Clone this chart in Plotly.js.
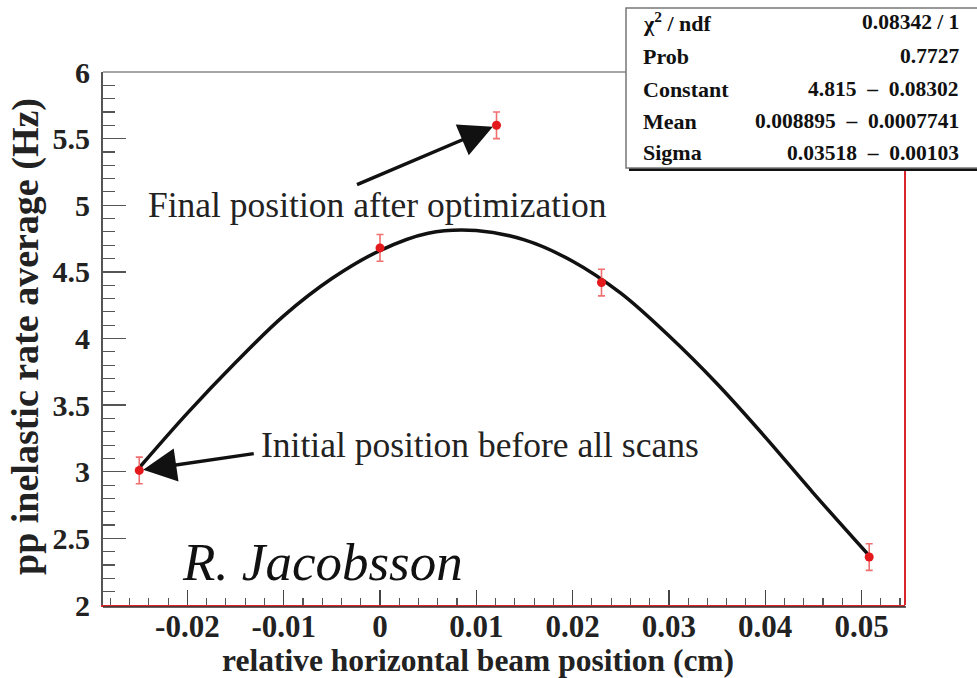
<!DOCTYPE html>
<html><head><meta charset="utf-8">
<script src="https://cdn.plot.ly/plotly-3.0.1.min.js"></script>
<style>html,body{margin:0;padding:0;background:#fff}#chart{width:977px;height:678px}</style>
</head><body><div id="chart"></div>
<script>
// ---- data ----
const beamPosition = [-0.0250, 0.0000, 0.0121, 0.0230, 0.0508];
const rateAverage  = [3.01, 4.68, 5.60, 4.42, 2.36];
const rateError    = [0.10, 0.10, 0.10, 0.10, 0.10];

const fitPosition = [-0.025, -0.02, -0.015, -0.01, -0.005, 0, 0.005, 0.01, 0.015, 0.02, 0.025, 0.03, 0.035, 0.04, 0.045, 0.0508];
const fitRate     = [3.03, 3.44, 3.82, 4.17, 4.45, 4.66, 4.79, 4.81, 4.74, 4.58, 4.34, 4.02, 3.66, 3.26, 2.84, 2.37];

const xTickValues = [-0.02, -0.01, 0, 0.01, 0.02, 0.03, 0.04, 0.05];
const xTickLabels = ['-0.02', '-0.01', '0', '0.01', '0.02', '0.03', '0.04', '0.05'];
const yTickValues = [2, 2.5, 3, 3.5, 4, 4.5, 5, 5.5, 6];
const yTickLabels = ['2', '2.5', '3', '3.5', '4', '4.5', '5', '5.5', '6'];

const statsLabels = ['\u03c7<sup>2</sup> / ndf', 'Prob', 'Constant', 'Mean', 'Sigma'];
const statsValues = ['0.08342 / 1', '0.7727', '4.815  \u2013  0.08302', '0.008895  \u2013  0.0007741', '0.03518  \u2013  0.00103'];

const xTitle = 'relative horizontal beam position (cm)';
const yTitle = 'pp inelastic rate average (Hz)';
const finalNote = 'Final position after optimization';
const initialNote = 'Initial position before all scans';
const author = 'R. Jacobsson';

// ---- geometry ----
const W = 977, H = 678, L = 103, R = 905, T = 72, B = 605;
const px = v => (v - L) / (R - L);
const py = v => (B - v) / (B - T);
const serif = 'Liberation Serif';
const red = '#d8262b';

const traces = [
  {
    x: fitPosition, y: fitRate, type: 'scatter', mode: 'lines',
    line: {color: '#111', width: 3.5, shape: 'spline', smoothing: 1},
    hoverinfo: 'skip', showlegend: false
  },
  {
    x: beamPosition, y: rateAverage, type: 'scatter', mode: 'markers',
    marker: {color: '#e3191c', size: 9},
    error_y: {type: 'data', array: rateError, visible: true, color: '#f07070', thickness: 1.6, width: 3.5},
    showlegend: false
  }
];

const annotations = [];
// stats box text
const rowsY = [22, 56, 89, 121, 153];
statsLabels.forEach((t, i) => {
  annotations.push({xref: 'paper', yref: 'paper', x: px(641), y: py(rowsY[i]), xanchor: 'left', yanchor: 'middle',
    text: '<b>' + t + '</b>', showarrow: false, font: {family: serif, size: 22, color: '#111'}});
  annotations.push({xref: 'paper', yref: 'paper', x: px(961), y: py(rowsY[i]), xanchor: 'right', yanchor: 'middle',
    text: '<b>' + statsValues[i] + '</b>', showarrow: false, font: {family: serif, size: 21.5, color: '#111'}});
});
// notes
annotations.push({xref: 'paper', yref: 'paper', x: px(377), y: py(205), xanchor: 'center', yanchor: 'middle',
  text: finalNote, showarrow: false, font: {family: serif, size: 35.5, color: '#222'}});
annotations.push({xref: 'paper', yref: 'paper', x: px(480), y: py(445), xanchor: 'center', yanchor: 'middle',
  text: initialNote, showarrow: false, font: {family: serif, size: 35.5, color: '#222'}});
annotations.push({xref: 'paper', yref: 'paper', x: px(322), y: py(562), xanchor: 'center', yanchor: 'middle',
  text: '<i>' + author + '</i>', showarrow: false, font: {family: serif, size: 53, color: '#111'}});
// arrows pointing to data points
annotations.push({x: beamPosition[2], y: rateAverage[2], xref: 'x', yref: 'y', text: '', showarrow: true,
  ax: -141, ay: 60, arrowhead: 2, arrowsize: 1.9, arrowwidth: 3.5, arrowcolor: '#111', standoff: 4});
annotations.push({x: beamPosition[0], y: rateAverage[0], xref: 'x', yref: 'y', text: '', showarrow: true,
  ax: 116, ay: -17, arrowhead: 2, arrowsize: 1.9, arrowwidth: 3.5, arrowcolor: '#111', standoff: 4});
// axis titles
annotations.push({xref: 'paper', yref: 'paper', x: px(478), y: py(660), xanchor: 'center', yanchor: 'middle',
  text: '<b>' + xTitle + '</b>', showarrow: false, font: {family: serif, size: 31.5, color: '#222'}});
annotations.push({xref: 'paper', yref: 'paper', x: px(25), y: py(337), xanchor: 'center', yanchor: 'middle',
  textangle: -90, text: '<b>' + yTitle + '</b>', showarrow: false, font: {family: serif, size: 38, color: '#222'}});

const shapes = [
  {type: 'line', xref: 'paper', yref: 'paper', x0: 0, x1: 1, y0: 1, y1: 1, line: {color: '#888', width: 1.5}, layer: 'above'},
  {type: 'line', xref: 'paper', yref: 'paper', x0: 1, x1: 1, y0: 0, y1: 1, line: {color: red, width: 2}, layer: 'above'},
  {type: 'line', xref: 'paper', yref: 'paper', x0: px(L), x1: px(R + 1), y0: py(607), y1: py(607), line: {color: '#333', width: 1.5}, layer: 'above'},
  {type: 'rect', xref: 'paper', yref: 'paper', x0: px(629), x1: px(995), y0: py(171), y1: py(11), fillcolor: '#111', line: {width: 0}, layer: 'above'},
  {type: 'rect', xref: 'paper', yref: 'paper', x0: px(626), x1: px(990), y0: py(168), y1: py(8), fillcolor: '#fff', line: {color: '#777', width: 1.5}, layer: 'above'}
];

const layout = {
  width: W, height: H,
  margin: {l: L, r: W - R, t: T, b: H - B, pad: 0},
  paper_bgcolor: '#fff', plot_bgcolor: '#fff',
  showlegend: false,
  xaxis: {
    range: [(L - 380) / 9630, (R - 380) / 9630],
    tickmode: 'array', tickvals: xTickValues, ticktext: xTickLabels,
    ticks: 'inside', ticklen: 15, tickwidth: 1.3, tickcolor: '#444',
    minor: {dtick: 0.002, tick0: 0, ticks: 'inside', ticklen: 7, tickwidth: 1.1, tickcolor: '#555'},
    showline: true, linecolor: red, linewidth: 2,
    showgrid: false, zeroline: false,
    tickfont: {family: serif, size: 31, color: '#222', weight: 'bold'},
    ticklabelstandoff: -7
  },
  yaxis: {
    range: [2, 6],
    tickmode: 'array', tickvals: yTickValues, ticktext: yTickLabels,
    ticks: 'inside', ticklen: 23, tickwidth: 1.3, tickcolor: '#555',
    minor: {dtick: 0.1, tick0: 2, ticks: 'inside', ticklen: 12, tickwidth: 1.1, tickcolor: '#555'},
    showline: true, linecolor: '#555', linewidth: 2,
    showgrid: false, zeroline: false,
    tickfont: {family: serif, size: 30, color: '#222', weight: 'bold'},
    ticklabelstandoff: 5
  },
  shapes: shapes,
  annotations: annotations
};

Plotly.newPlot('chart', traces, layout, {displayModeBar: false, staticPlot: true});
</script>
</body></html>
